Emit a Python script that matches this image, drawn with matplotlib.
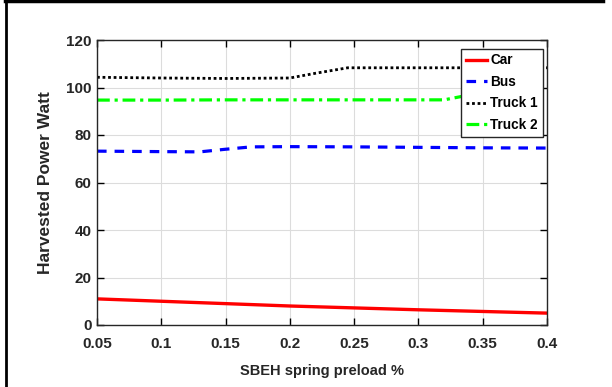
import matplotlib
matplotlib.use("Agg")
import matplotlib.pyplot as plt
from matplotlib.lines import Line2D

# Data
car_x = [0.05, 0.1, 0.15, 0.2, 0.25, 0.3, 0.35, 0.4]
car_y = [11.0, 10.0, 9.0, 8.0, 7.2, 6.4, 5.7, 5.0]

bus_x = [0.05, 0.1, 0.13, 0.15, 0.17, 0.2, 0.25, 0.3, 0.35, 0.4]
bus_y = [73.2, 73.0, 72.9, 74.0, 75.0, 75.1, 75.0, 74.8, 74.6, 74.5]

truck1_x = [0.05, 0.1, 0.15, 0.2, 0.22, 0.245, 0.3, 0.35, 0.4]
truck1_y = [104.3, 104.0, 103.8, 104.0, 106.0, 108.3, 108.3, 108.3, 108.3]

truck2_x = [0.05, 0.1, 0.15, 0.2, 0.25, 0.3, 0.32, 0.36, 0.4]
truck2_y = [94.7, 94.7, 94.8, 94.8, 94.8, 94.8, 94.8, 99.0, 99.4]

xticks = [0.05, 0.1, 0.15, 0.2, 0.25, 0.3, 0.35, 0.4]
xticklabels = ["0.05", "0.1", "0.15", "0.2", "0.25", "0.3", "0.35", "0.4"]
yticks = [0, 20, 40, 60, 80, 100, 120]

font = "Liberation Sans"
dark = "#262626"

fig = plt.figure(figsize=(6.12, 3.87), dpi=100)
ax = fig.add_axes([97/612, 1-325/387, (547-97)/612, (325-40)/387])

ax.plot(car_x, car_y, color="#ff0000", lw=2.4, ls="-", label="Car")
ax.plot(bus_x, bus_y, color="#0000ff", lw=2.3, ls=(0, (3, 2.5)), label="Bus")
ax.plot(truck1_x, truck1_y, color="black", lw=2.0, ls=(0, (1, 1)), label="Truck 1")
ax.plot(truck2_x, truck2_y, color="#00ff00", lw=2.3, ls=(0, (4, 1.5, 1, 1.5)), label="Truck 2")

ax.set_xlim(0.05, 0.4)
ax.set_ylim(0, 120)
ax.set_xticks(xticks)
ax.set_xticklabels(xticklabels)
ax.set_yticks(yticks)
ax.grid(True, color="#dcdcdc", lw=0.8)
ax.tick_params(direction="in", top=True, right=True, length=5, width=1, labelsize=11)
ax.tick_params(axis="x", pad=9)
ax.tick_params(axis="y", pad=4)
for lbl in ax.get_xticklabels() + ax.get_yticklabels():
    lbl.set_fontfamily(font)
    lbl.set_fontweight("bold")
    lbl.set_color(dark)
for s in ax.spines.values():
    s.set_color(dark)
    s.set_linewidth(1.0)

ax.set_xlabel("SBEH spring preload %", fontsize=10.5, fontweight="bold", family=font, color=dark, labelpad=9)
ax.set_ylabel("Harvested Power Watt", fontsize=12.5, fontweight="bold", family=font, color=dark, labelpad=9)

leg = ax.legend(loc="upper right", bbox_to_anchor=(0.99, 0.97), frameon=True, fancybox=False,
                prop={"family": font, "weight": "bold", "size": 9.8}, handlelength=1.6,
                handletextpad=0.2, borderpad=0.35, labelspacing=0.55, borderaxespad=0)
leg.get_frame().set_edgecolor(dark)
leg.get_frame().set_linewidth(1.0)
leg.get_frame().set_alpha(1)

# Figure frame (left and top edges visible in the reference)
fig.add_artist(Line2D([6/612, 6/612], [0, 1], transform=fig.transFigure, color="black", lw=2))
fig.add_artist(Line2D([5/612, 603/612], [1-1.2/387, 1-1.2/387], transform=fig.transFigure, color="black", lw=2.5))

fig.savefig("out.png", dpi=100)
